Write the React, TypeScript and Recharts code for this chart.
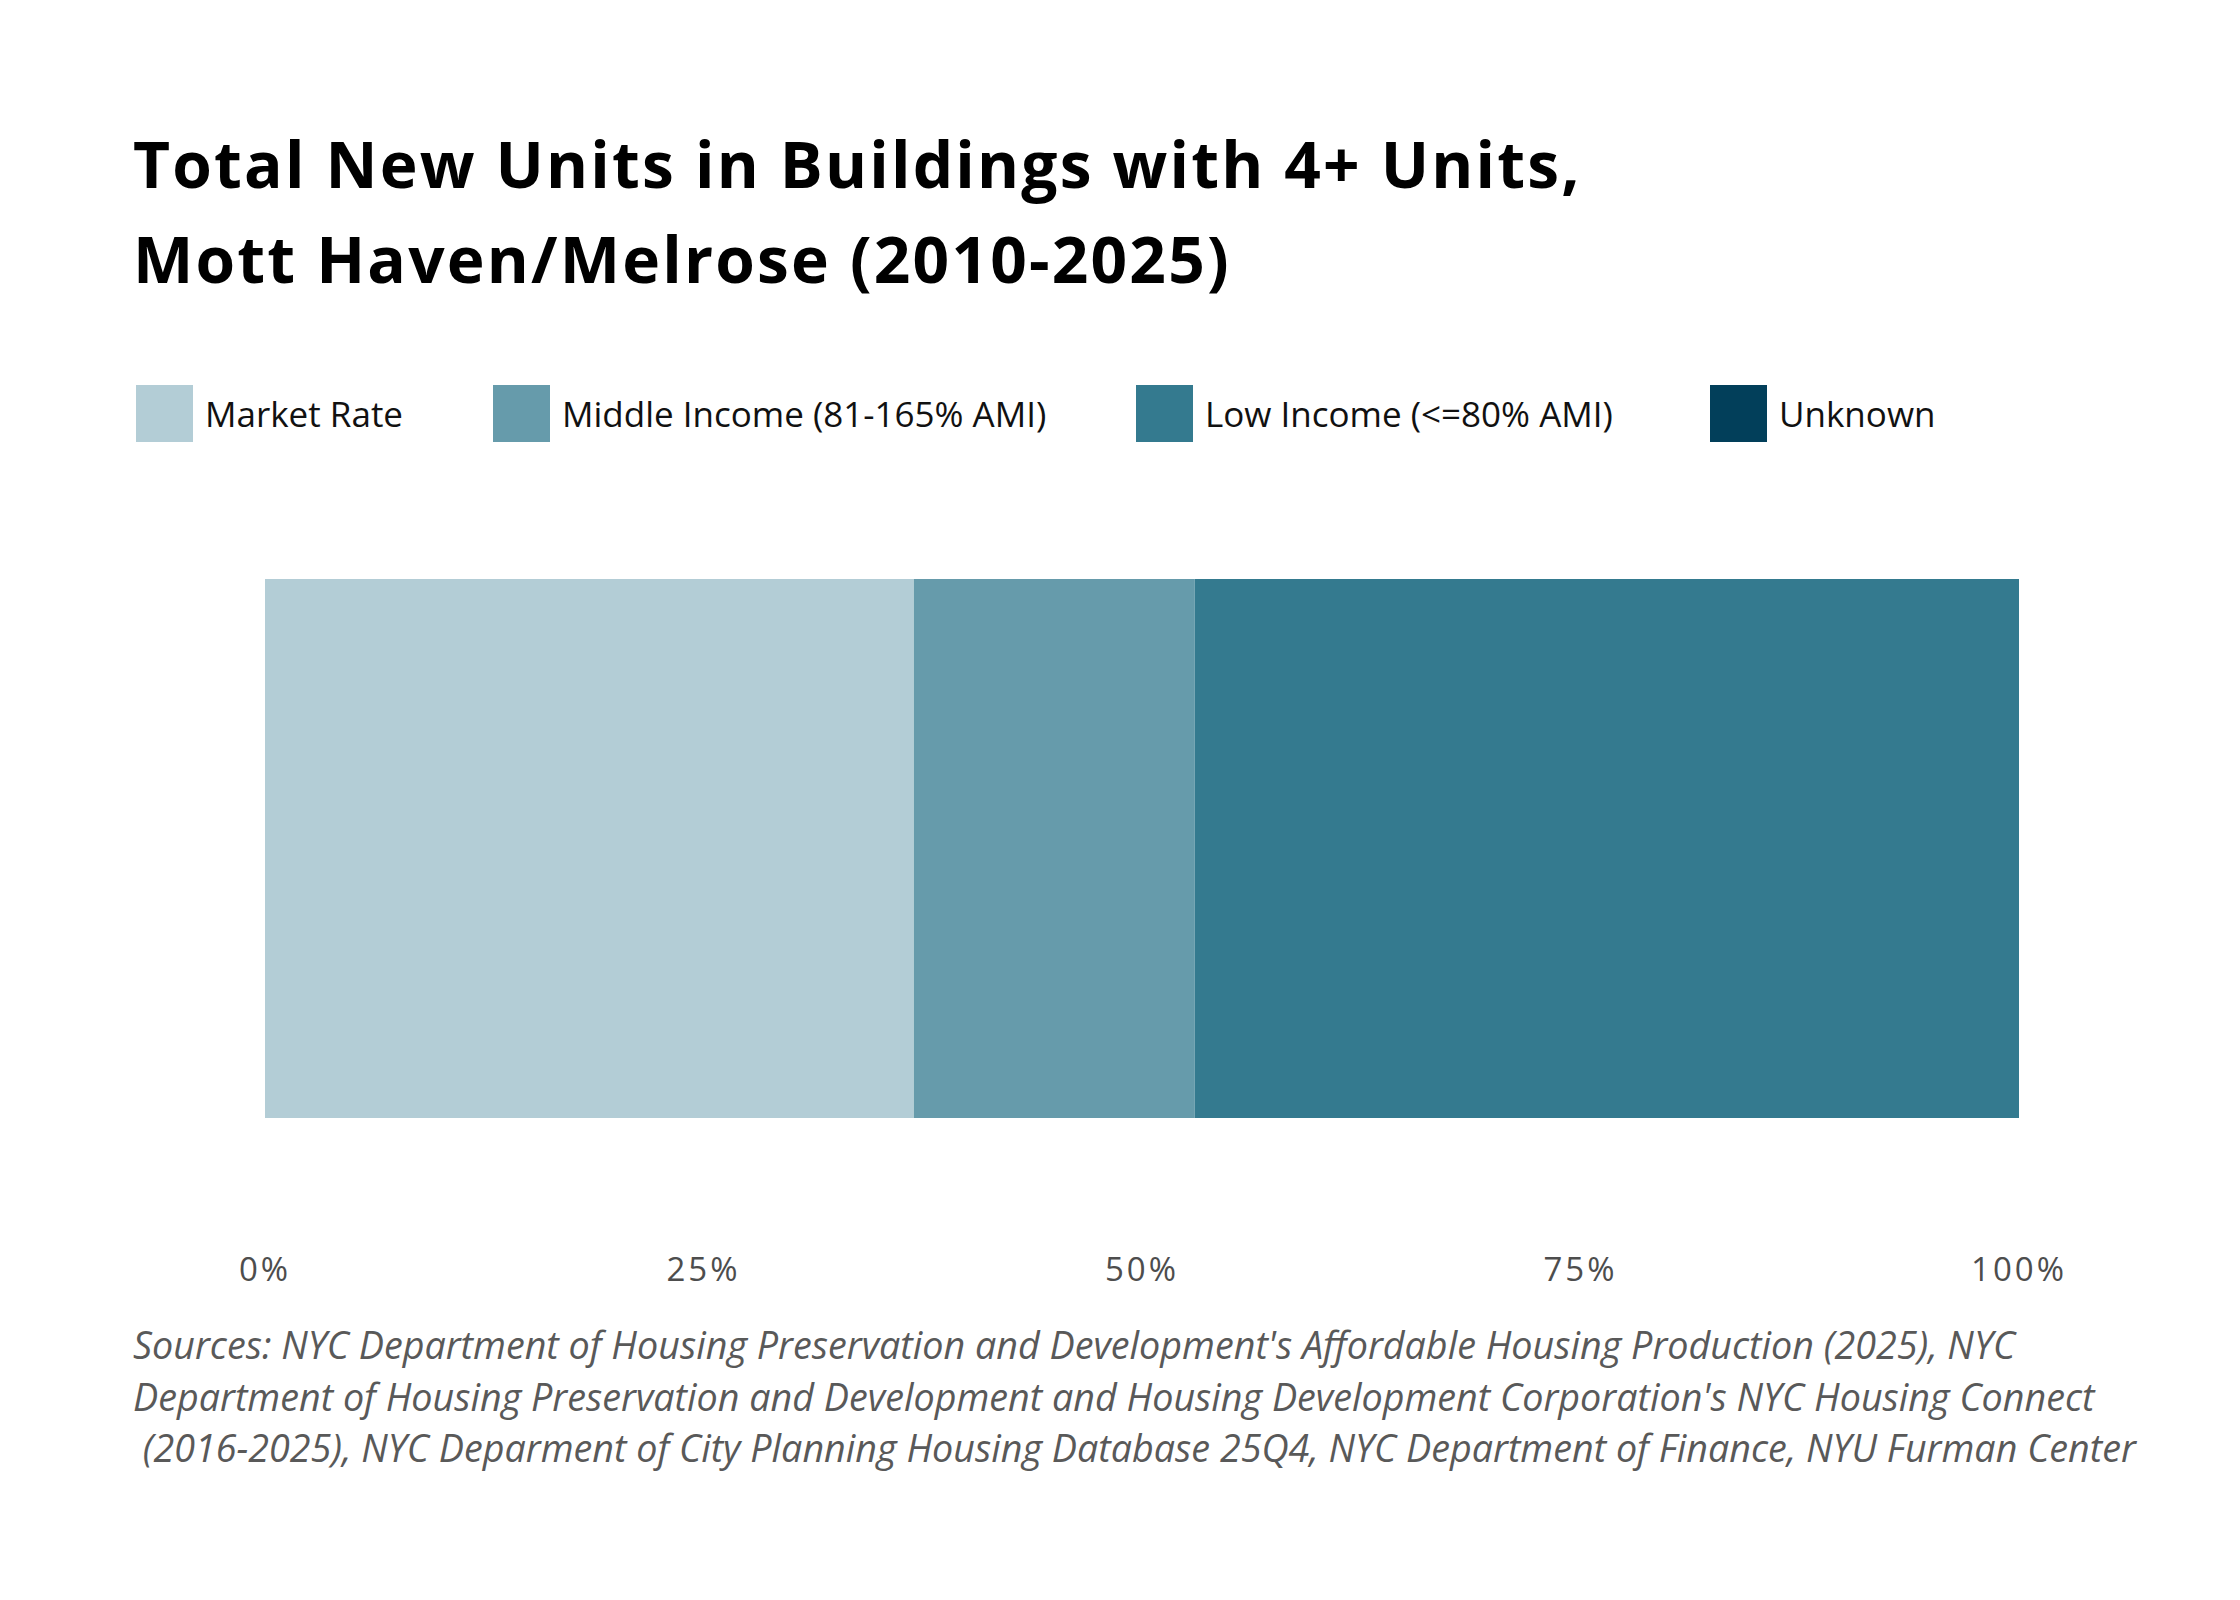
import { BarChart, Bar, XAxis, YAxis } from 'recharts'

// one stacked bar, shares in percent of total new units
const CATEGORIES = ['Mott Haven/Melrose']
const MARKET_RATE = [37.0]
const MIDDLE_INCOME = [16.0]
const LOW_INCOME = [47.0]
const UNKNOWN = [0]

const SERIES_KEYS = ['market', 'middle', 'low', 'unknown']
const SERIES_NAMES = ['Market Rate', 'Middle Income (81-165% AMI)', 'Low Income (<=80% AMI)', 'Unknown']
const SERIES_COLORS = ['#b3cdd6', '#669bab', '#347a8f', '#023f5a']
const X_TICKS = [0, 25, 50, 75, 100]

const TITLE_LINES = ['Total New Units in Buildings with 4+ Units,', 'Mott Haven/Melrose (2010-2025)']
const SOURCE_LINES = [
  "Sources: NYC Department of Housing Preservation and Development's Affordable Housing Production (2025), NYC",
  "Department of Housing Preservation and Development and Housing Development Corporation's NYC Housing Connect",
  '\u00a0(2016-2025), NYC Deparment of City Planning Housing Database 25Q4, NYC Department of Finance, NYU Furman Center',
]

const LEGEND_X = [136, 493, 1136, 1710]

const data = CATEGORIES.map((name, i) => ({
  name,
  market: MARKET_RATE[i],
  middle: MIDDLE_INCOME[i],
  low: LOW_INCOME[i],
  unknown: UNKNOWN[i],
}))

const Legend = () => (
  <div style={{ position: 'absolute', left: 0, top: 385, width: 2240, height: 57 }}>
    {SERIES_NAMES.map((name, i) => (
      <div
        key={name}
        style={{ position: 'absolute', left: LEGEND_X[i], top: 0, height: 57, display: 'flex', alignItems: 'center' }}
      >
        <div style={{ width: 57, height: 57, background: SERIES_COLORS[i] }} />
        <span
          style={{
            marginLeft: 12,
            fontFamily: '"Open Sans", sans-serif',
            fontSize: 35,
            color: '#111',
            whiteSpace: 'pre',
          }}
        >
          {name}
        </span>
      </div>
    ))}
  </div>
)

export default function App() {
  return (
    <div style={{ position: 'absolute', left: 0, top: 0, width: 2240, height: 1600, background: '#fff' }}>
      <div
        style={{
          position: 'absolute',
          left: 133,
          top: 116,
          fontFamily: '"Open Sans", sans-serif',
          fontWeight: 700,
          fontSize: 64,
          letterSpacing: 2.2,
          lineHeight: '95px',
          color: '#000',
          whiteSpace: 'pre',
        }}
      >
        {TITLE_LINES.map((l) => (
          <div key={l}>{l}</div>
        ))}
      </div>

      <Legend />

      <div style={{ position: 'absolute', left: 0, top: 0 }}>
        <BarChart
          width={2240}
          height={1330}
          data={data}
          layout="vertical"
          margin={{ top: 579, right: 221, left: 265, bottom: 0 }}
          barCategoryGap={0}
        >
          <XAxis
            type="number"
            domain={[0, 100]}
            ticks={X_TICKS}
            tickFormatter={(v) => `${v}%`}
            axisLine={false}
            tickLine={false}
            tickSize={0}
            tickMargin={140}
            height={212}
            tick={{ fontFamily: '"Open Sans", sans-serif', fontSize: 33, fill: '#4d4d4d', letterSpacing: 3 }}
            interval={0}
          />
          <YAxis type="category" dataKey="name" hide width={0} />
          {SERIES_KEYS.map((k, i) => (
            <Bar key={k} dataKey={k} stackId="a" fill={SERIES_COLORS[i]} isAnimationActive={false} />
          ))}
        </BarChart>
      </div>

      <div
        style={{
          position: 'absolute',
          left: 133,
          top: 1319,
          fontFamily: '"Open Sans", sans-serif',
          fontStyle: 'italic',
          fontSize: 37.7,
          lineHeight: '51.5px',
          color: '#595959',
          whiteSpace: 'pre',
        }}
      >
        {SOURCE_LINES.map((l) => (
          <div key={l}>{l}</div>
        ))}
      </div>
    </div>
  )
}
